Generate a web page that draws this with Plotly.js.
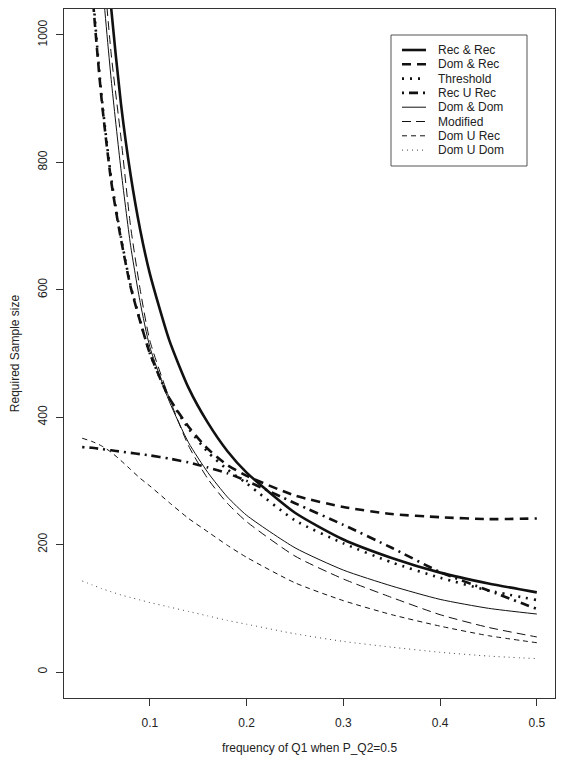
<!DOCTYPE html>
<html><head><meta charset="utf-8">
<script src="https://cdn.plot.ly/plotly-3.0.1.min.js"></script>
<style>html,body{margin:0;padding:0;background:#fff;} #chart{width:565px;height:766px;}</style>
</head><body><div id="chart"></div>
<script>
// frequency of Q1 (x) values
const freq = [0.03,0.04,0.05,0.06,0.07,0.08,0.09,0.10,0.12,0.14,0.16,0.18,0.20,0.25,0.30,0.35,0.40,0.45,0.50];
// required sample sizes
const recRec    = [2080,1560,1250,1042,893,781,694,625,521,446,391,347,313,250,208,179,156,139,125];
const domRec    = [1450,1080,900,770,680,605,550,500,430,385,350,325,308,277,259,248,243,240,241];
const threshold = [1460,1090,905,775,683,607,551,500,430,382,345,318,296,238,202,172,148,128,113];
const recURec   = [353,352,350,348,346,344,342,340,335,329,321,312,300,265,231,195,157,128,99];
const domDom    = [1800,1350,1100,930,790,670,580,510,425,360,313,275,246,195,160,135,114,100,91];
const modified  = [1900,1450,1150,970,840,700,600,520,430,355,303,265,236,182,146,117,90,70,55];
const domURec   = [367,362,355,345,332,318,304,292,266,241,220,199,180,140,112,90,72,57,46];
const domUDom   = [143,137,131,126,121,117,113,109,102,95,88,81,75,60,48,39,31,25,21];

const seriesNames = ["Rec & Rec","Dom & Rec","Threshold","Rec U Rec","Dom & Dom","Modified","Dom U Rec","Dom U Dom"];
const seriesData = [recRec, domRec, threshold, recURec, domDom, modified, domURec, domUDom];
const xTicks = [0.1,0.2,0.3,0.4,0.5];
const yTicks = [0,200,400,600,800,1000];

const styles = [
  {width:2.6, dash:"solid", color:"#111"},
  {width:2.6, dash:"9px,6px", color:"#111"},
  {width:2.6, dash:"2px,6px", color:"#111"},
  {width:2.6, dash:"2px,5px,9px,5px", color:"#111"},
  {width:1, dash:"solid", color:"#111"},
  {width:1, dash:"9px,5px", color:"#111"},
  {width:1, dash:"5px,4px", color:"#111"},
  {width:1, dash:"1px,4px", color:"#444"}
];

const traces = seriesData.map((d,i)=>({
  x: freq, y: d, name: seriesNames[i], type:"scatter", mode:"lines",
  line:{width:styles[i].width, dash:styles[i].dash, color:styles[i].color, shape:"spline", smoothing:0.6},
  showlegend:false, hoverinfo:"skip"
}));

// geometry (pixels)
const W=565,H=766, L=64, R=555, T=9, B=698;
const pw=R-L, ph=B-T;
const px2x = p => (p-L)/pw;
const px2y = p => (B-p)/ph;

const shapes = [];
const annotations = [];
// legend box
shapes.push({type:"rect", xref:"paper", yref:"paper", x0:px2x(391), x1:px2x(527), y0:px2y(166), y1:px2y(35), line:{color:"#555", width:1}, fillcolor:"rgba(0,0,0,0)"});
for (let i=0;i<seriesNames.length;i++){
  const yy = 50 + i*14.3;
  shapes.push({type:"line", xref:"paper", yref:"paper", x0:px2x(402), x1:px2x(426), y0:px2y(yy), y1:px2y(yy),
    line:{color:styles[i].color, width:styles[i].width, dash:styles[i].dash}});
  annotations.push({xref:"paper", yref:"paper", x:px2x(436), y:px2y(yy), xanchor:"left", yanchor:"middle",
    text:seriesNames[i], showarrow:false, font:{family:"Liberation Sans, Arial, sans-serif", size:12, color:"#222"}});
}

const layout = {
  width:W, height:H,
  margin:{l:L, r:W-R, t:T, b:H-B, pad:0},
  paper_bgcolor:"#fff", plot_bgcolor:"#fff",
  font:{family:"Liberation Sans, Arial, sans-serif", size:12, color:"#222"},
  xaxis:{range:[0.0112,0.5188], tickvals:xTicks, ticktext:xTicks.map(v=>v.toFixed(1)),
    ticks:"outside", ticklen:7, tickcolor:"#333", showline:true, mirror:true, linecolor:"#333", linewidth:1,
    showgrid:false, zeroline:false, tickfont:{size:12}, ticklabelstandoff:7,
    title:{text:"frequency of Q1 when P_Q2=0.5", font:{size:12}, standoff:14}},
  yaxis:{range:[-40.8,1040.8], tickvals:yTicks, ticktext:yTicks.map(String), tickangle:-90,
    ticks:"outside", ticklen:7, tickcolor:"#333", showline:true, mirror:true, linecolor:"#333", linewidth:1,
    showgrid:false, zeroline:false, tickfont:{size:12}, ticklabelstandoff:4,
    title:{text:"Required Sample size", font:{size:12}, standoff:14}},
  shapes:shapes, annotations:annotations, showlegend:false
};

Plotly.newPlot("chart", traces, layout, {staticPlot:true, displayModeBar:false});
</script>
</body></html>
